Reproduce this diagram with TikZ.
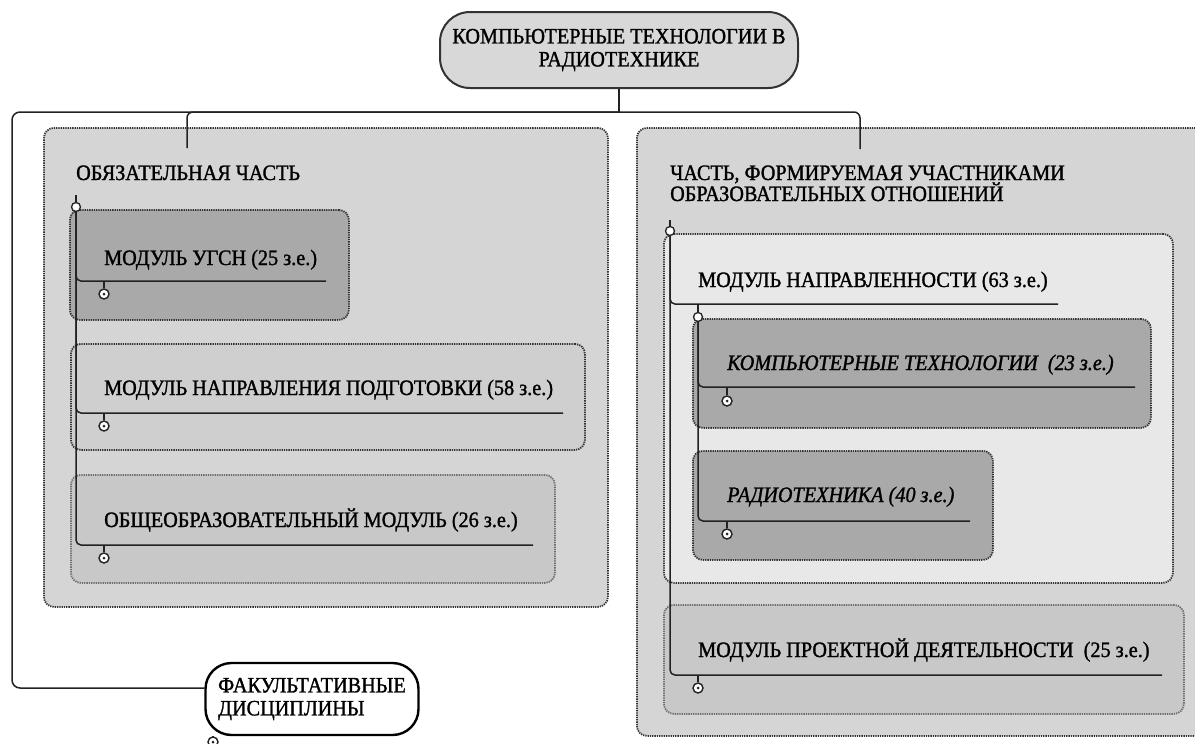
\documentclass[tikz,border=0pt]{standalone}
\usepackage{fontspec}
\setmainfont{Liberation Serif}[FakeBold=1.3, FakeStretch=0.92]
\usetikzlibrary{positioning}

\definecolor{panelgray}{HTML}{D5D5D5}
\definecolor{darkgray}{HTML}{A9A9A9}
\definecolor{midgray}{HTML}{CFCFCF}
\definecolor{softgray}{HTML}{C8C8C8}
\definecolor{palegray}{HTML}{E8E8E8}
\definecolor{rootgray}{HTML}{D8D8D8}
\definecolor{edgegray}{HTML}{333333}
\definecolor{lightedge}{HTML}{6E6E6E}
\definecolor{linkgray}{HTML}{222222}

\tikzset{
  panel/.style={draw=edgegray, fill=panelgray, rounded corners=10pt, line width=1.8pt,
    dash pattern=on 1.3pt off 1pt, anchor=north west, inner sep=0pt},
  darkbox/.style={panel, fill=darkgray},
  midbox/.style={panel, fill=midgray},
  softbox/.style={panel, fill=softgray, draw=lightedge},
  palebox/.style={panel, fill=palegray},
  lbl/.style={anchor=base west, inner sep=0pt, font=\fontsize{22}{21}\selectfont},
  link/.style={draw=linkgray, line width=1.5pt},
  knob/.style={circle, draw=linkgray, fill=white, line width=1.3pt, minimum size=9pt, inner sep=0pt},
  fold/.style={circle, draw=linkgray, fill=white, line width=1.4pt, minimum size=10pt, inner sep=0pt,
    path picture={\fill[linkgray] (path picture bounding box.center) circle (1.5pt);}},
}

\begin{document}
\begin{tikzpicture}[x=1pt, y=-1pt]
    \useasboundingbox (0,0) rectangle (1195,744);
    \fill[white] (0,0) rectangle (1195,744);
    \begin{scope}
    \clip (0,0) rectangle (1195,744);

    % Root
    \node[draw=edgegray, fill=rootgray, line width=2pt, rounded corners=30pt,
          minimum width=358, minimum height=76, align=center,
          font=\fontsize{22}{23}\selectfont] (root) at (619,50)
          {КОМПЬЮТЕРНЫЕ ТЕХНОЛОГИИ В\\РАДИОТЕХНИКЕ};

    % Panels
    \node[panel, minimum width=564, minimum height=479] (oblig-panel) at (43,127) {};
    \node[panel, minimum width=580, minimum height=608] (formed-panel) at (636,127) {};

    % Left panel boxes
    \node[darkbox, minimum width=279, minimum height=110] (ugsn-box) at (69,209) {};
    \node[midbox, minimum width=514, minimum height=106] (napr-box) at (70,343) {};
    \node[softbox, minimum width=484, minimum height=108] (obsh-box) at (70,474) {};

    % Right panel boxes
    \node[palebox, minimum width=509, minimum height=349] (dir-box) at (663,233) {};
    \node[darkbox, minimum width=458, minimum height=109] (comp-box) at (692,318) {};
    \node[darkbox, minimum width=300, minimum height=109] (radio-box) at (692,450) {};
    \node[softbox, minimum width=520, minimum height=109] (proj-box) at (663,604) {};

    % Optional subjects
    \node[draw=black, fill=white, line width=2.4pt, rounded corners=26pt,
          minimum width=213, minimum height=72, align=left,
          font=\fontsize{22}{23}\selectfont] (fak) at (312,699)
          {ФАКУЛЬТАТИВНЫЕ\\ДИСЦИПЛИНЫ};

    % Labels
    \node[lbl] (oblig) at (76,180) {ОБЯЗАТЕЛЬНАЯ ЧАСТЬ};
    \node[lbl] (ugsn) at (104,265) {МОДУЛЬ УГСН (25 з.е.)};
    \node[lbl] (napr) at (104,395) {МОДУЛЬ НАПРАВЛЕНИЯ ПОДГОТОВКИ (58 з.е.)};
    \node[lbl] (obsh) at (104,527) {ОБЩЕОБРАЗОВАТЕЛЬНЫЙ МОДУЛЬ (26 з.е.)};
    \node[lbl] (formed) at (670,180) {ЧАСТЬ, ФОРМИРУЕМАЯ УЧАСТНИКАМИ};
    \node[lbl] (formed2) at (670,201) {ОБРАЗОВАТЕЛЬНЫХ ОТНОШЕНИЙ};
    \node[lbl] (dir) at (698,287) {МОДУЛЬ НАПРАВЛЕННОСТИ (63 з.е.)};
    \node[lbl, font=\fontsize{22}{21}\selectfont\itshape] (comp) at (727,370) {КОМПЬЮТЕРНЫЕ ТЕХНОЛОГИИ~ (23 з.е.)};
    \node[lbl, font=\fontsize{22}{21}\selectfont\itshape] (radio) at (727,502) {РАДИОТЕХНИКА (40 з.е.)};
    \node[lbl] (proj) at (698,657) {МОДУЛЬ ПРОЕКТНОЙ ДЕЯТЕЛЬНОСТИ~ (25 з.е.)};

    % Branch ends
    \coordinate (hub) at (619,112);
    \coordinate (oblig-in) at (187,148);
    \coordinate (formed-in) at (860,149);
    \coordinate (fak-corner) at (12,688);
    \coordinate (oblig-stub) at (76,195);
    \coordinate (formed-stub) at (670,220);
    \coordinate (ugsn-end) at (326,281);
    \coordinate (napr-end) at (563,413);
    \coordinate (obsh-end) at (533,545);
    \coordinate (dir-end) at (1058,304);
    \coordinate (comp-end) at (1135,387);
    \coordinate (radio-end) at (970,521);
    \coordinate (proj-end) at (1162,675);

    % Top level links
    \draw[link] (root) -- (hub);
    \draw[link, rounded corners=6pt] (hub) -| (oblig-in);
    \draw[link, rounded corners=6pt] (hub) -| (formed-in);
    \draw[link, rounded corners=8pt] (hub) -| (fak-corner) -- (fak-corner -| fak.west);

    % Spines
    \node[knob] (s1) at (76,207) {};
    \node[knob] (s2) at (670,231) {};
    \node[knob] (s3) at (698,317) {};
    \draw[link] (oblig-stub) -- (s1);
    \draw[link] (formed-stub) -- (s2);
    \draw[link] (s3 |- dir-end) -- (s3);
    \foreach \m in {ugsn, napr, obsh}
        \draw[link, rounded corners=5pt] (s1) |- (\m-end);
    \foreach \m in {dir, proj}
        \draw[link, rounded corners=5pt] (s2) |- (\m-end);
    \foreach \m in {comp, radio}
        \draw[link, rounded corners=5pt] (s3) |- (\m-end);

    % Fold marks
    \node[fold] (ugsn-fold) at (104,294) {};
    \node[fold] (napr-fold) at (104,426) {};
    \node[fold] (obsh-fold) at (104,558) {};
    \node[fold] (comp-fold) at (727,401) {};
    \node[fold] (radio-fold) at (727,534) {};
    \node[fold] (proj-fold) at (698,688) {};
    \node[fold] (fak-fold) at (213,742) {};
    \foreach \m in {ugsn, napr, obsh, comp, radio, proj}
        \draw[link] (\m-fold) -- (\m-fold |- \m-end);
    \draw[link] (fak-fold) -- (fak-fold |- fak.south);
    \end{scope}
\end{tikzpicture}
\end{document}
